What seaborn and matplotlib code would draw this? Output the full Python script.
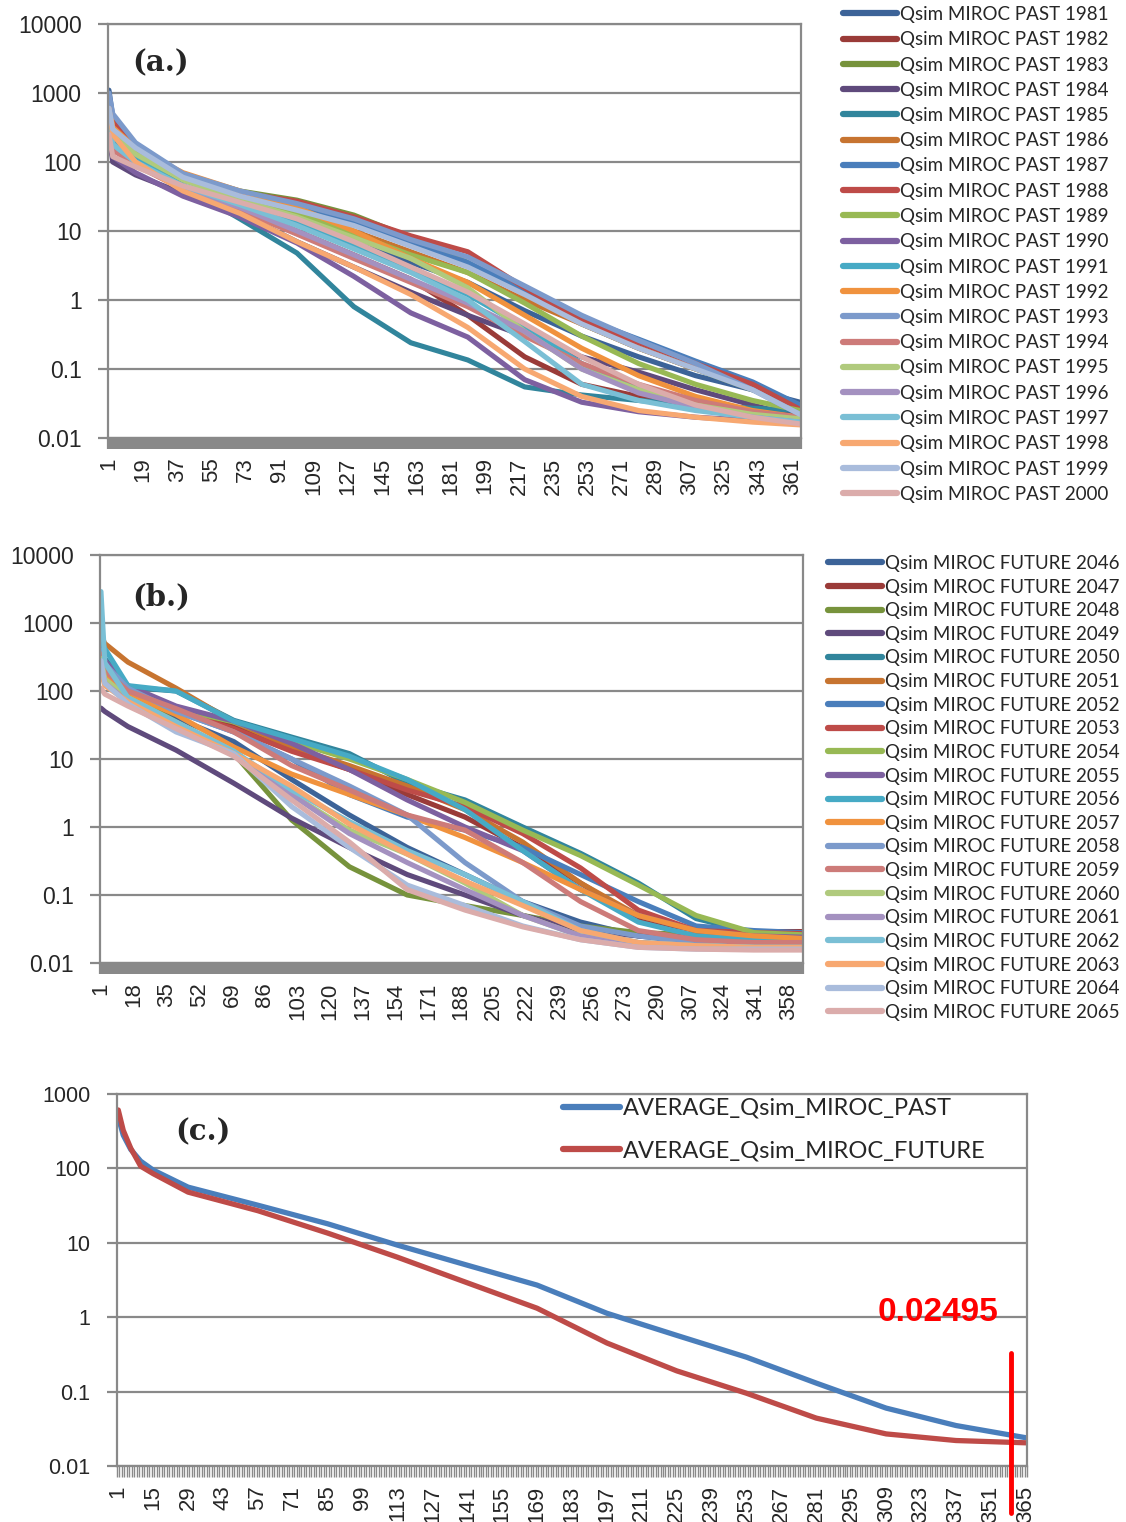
import numpy as np
import pandas as pd
import matplotlib
matplotlib.use("Agg")
import matplotlib.pyplot as plt
import seaborn as sns
from matplotlib.lines import Line2D
from matplotlib.ticker import FixedLocator, NullLocator
from matplotlib.transforms import blended_transform_factory

# ---- panel (a): past years, flow values read at these ranks ----
ranks_a = [1, 3, 15, 40, 70, 100, 130, 160, 190, 220, 250, 280, 310, 340, 365]
p1981 = [1100, 450, 150, 55, 30, 15, 7, 3.5, 1.8, 0.7, 0.3, 0.15, 0.08, 0.05, 0.033]
p1982 = [900, 350, 120, 45, 22, 10, 4.5, 2, 0.6, 0.15, 0.06, 0.04, 0.03, 0.025, 0.022]
p1983 = [700, 350, 160, 65, 38, 28, 17, 8, 3.5, 1.2, 0.45, 0.2, 0.1, 0.05, 0.027]
p1984 = [250, 100, 65, 35, 18, 7, 3, 1.3, 0.6, 0.3, 0.15, 0.09, 0.05, 0.03, 0.02]
p1985 = [500, 200, 110, 45, 15, 4.8, 0.8, 0.24, 0.135, 0.055, 0.042, 0.035, 0.03, 0.027, 0.025]
p1986 = [600, 300, 150, 60, 33, 20, 10, 5, 2.5, 1.0, 0.45, 0.2, 0.1, 0.055, 0.03]
p1987 = [900, 400, 170, 62, 35, 22, 13, 6.5, 3.5, 1.4, 0.55, 0.27, 0.13, 0.065, 0.03]
p1988 = [800, 380, 150, 62, 36, 27, 16, 8.5, 5, 1.5, 0.5, 0.24, 0.12, 0.06, 0.026]
p1989 = [600, 300, 140, 55, 30, 18, 9, 4.5, 2.5, 0.9, 0.3, 0.12, 0.06, 0.035, 0.025]
p1990 = [300, 120, 70, 32, 16, 6.7, 2.2, 0.65, 0.29, 0.07, 0.033, 0.024, 0.02, 0.018, 0.017]
p1991 = [400, 200, 110, 45, 25, 13, 6, 2.8, 1.2, 0.4, 0.12, 0.05, 0.03, 0.022, 0.02]
p1992 = [700, 320, 160, 70, 38, 22, 10, 4, 1.8, 0.6, 0.2, 0.08, 0.04, 0.025, 0.02]
p1993 = [1000, 500, 190, 68, 38, 25, 15, 7.5, 4.2, 1.6, 0.6, 0.26, 0.12, 0.05, 0.022]
p1994 = [350, 150, 90, 40, 20, 9, 4, 1.8, 0.8, 0.3, 0.12, 0.06, 0.035, 0.024, 0.02]
p1995 = [500, 250, 130, 55, 28, 16, 8, 4, 1.5, 0.35, 0.1, 0.05, 0.03, 0.022, 0.019]
p1996 = [400, 180, 100, 42, 22, 10, 4.5, 2, 0.9, 0.35, 0.1, 0.045, 0.028, 0.02, 0.017]
p1997 = [350, 180, 100, 45, 24, 12, 5.5, 2.5, 1, 0.25, 0.06, 0.035, 0.025, 0.02, 0.017]
p1998 = [600, 250, 100, 38, 18, 7, 3, 1.2, 0.4, 0.1, 0.04, 0.025, 0.02, 0.017, 0.0155]
p1999 = [600, 300, 160, 60, 32, 20, 12, 6, 3, 1.2, 0.45, 0.2, 0.1, 0.05, 0.022]
p2000 = [250, 120, 85, 45, 26, 15, 7, 3, 1.3, 0.45, 0.15, 0.06, 0.03, 0.02, 0.016]
past_years = list(range(1981, 2001))
past_series = [p1981, p1982, p1983, p1984, p1985, p1986, p1987, p1988, p1989, p1990,
               p1991, p1992, p1993, p1994, p1995, p1996, p1997, p1998, p1999, p2000]

# ---- panel (b): future years ----
ranks_b = [1, 3, 15, 40, 70, 100, 130, 160, 190, 220, 250, 280, 310, 340, 365]
f2046 = [300, 180, 80, 40, 18, 5, 1.5, 0.5, 0.2, 0.08, 0.04, 0.025, 0.02, 0.018, 0.018]
f2047 = [400, 200, 100, 55, 30, 14, 7, 3, 1.4, 0.5, 0.15, 0.045, 0.03, 0.029, 0.029]
f2048 = [350, 180, 90, 35, 12, 1.27, 0.26, 0.1, 0.07, 0.05, 0.035, 0.028, 0.026, 0.025, 0.025]
f2049 = [56, 50, 30, 13.5, 4.4, 1.35, 0.5, 0.2, 0.1, 0.05, 0.03, 0.025, 0.024, 0.024, 0.024]
f2050 = [500, 300, 114, 100, 37, 21, 12, 4.4, 2.5, 1.0, 0.41, 0.15, 0.045, 0.028, 0.027]
f2051 = [660, 500, 266, 110, 35, 15, 8, 4, 1.8, 0.6, 0.15, 0.05, 0.03, 0.025, 0.022]
f2052 = [400, 200, 100, 50, 25, 10, 3, 1.4, 0.9, 0.5, 0.2, 0.08, 0.035, 0.03, 0.028]
f2053 = [350, 200, 100, 50, 28, 13, 7, 3.5, 2, 0.8, 0.25, 0.06, 0.03, 0.028, 0.027]
f2054 = [400, 250, 110, 55, 35, 18, 10, 5, 2.3, 0.9, 0.38, 0.14, 0.05, 0.028, 0.026]
f2055 = [500, 280, 120, 60, 36, 17, 7, 2.5, 1.0, 0.45, 0.12, 0.05, 0.03, 0.025, 0.024]
f2056 = [550, 420, 120, 100, 36, 20, 11, 5, 1.8, 0.45, 0.12, 0.04, 0.025, 0.022, 0.021]
f2057 = [300, 180, 90, 45, 15, 6, 3, 1.5, 0.7, 0.3, 0.12, 0.05, 0.03, 0.025, 0.023]
f2058 = [400, 250, 110, 50, 25, 10, 4, 1.5, 0.3, 0.08, 0.035, 0.025, 0.02, 0.019, 0.019]
f2059 = [350, 200, 100, 55, 25, 8, 3.5, 1.5, 0.9, 0.3, 0.08, 0.03, 0.022, 0.02, 0.02]
f2060 = [300, 150, 80, 35, 13, 3, 0.9, 0.4, 0.15, 0.05, 0.025, 0.02, 0.018, 0.017, 0.017]
f2061 = [250, 130, 70, 30, 12, 3, 0.8, 0.3, 0.12, 0.05, 0.025, 0.02, 0.018, 0.017, 0.017]
f2062 = [2900, 260, 80, 35, 13, 3.5, 1.2, 0.45, 0.2, 0.08, 0.03, 0.02, 0.018, 0.017, 0.017]
f2063 = [200, 120, 70, 30, 12, 4, 1.1, 0.4, 0.16, 0.07, 0.03, 0.02, 0.018, 0.017, 0.017]
f2064 = [280, 130, 65, 25, 12, 2, 0.5, 0.14, 0.07, 0.035, 0.022, 0.017, 0.016, 0.016, 0.016]
f2065 = [110, 90, 60, 28, 11, 2.5, 0.6, 0.12, 0.06, 0.034, 0.022, 0.017, 0.016, 0.0155, 0.0155]
future_years = list(range(2046, 2066))
future_series = [f2046, f2047, f2048, f2049, f2050, f2051, f2052, f2053, f2054, f2055,
                 f2056, f2057, f2058, f2059, f2060, f2061, f2062, f2063, f2064, f2065]

# ---- panel (c): averages ----
ranks_c = [1, 3, 6, 10, 15, 29, 57, 85, 113, 141, 169, 197, 225, 253, 281, 309, 337, 365]
avg_past = [490, 280, 180, 125, 95, 56, 32, 18, 9.3, 5, 2.7, 1.13, 0.57, 0.29, 0.13, 0.06, 0.035, 0.024]
avg_future = [610, 325, 187, 107, 85, 48, 27, 13.5, 6.4, 2.9, 1.32, 0.45, 0.19, 0.095, 0.044, 0.027, 0.022, 0.0205]
marker_rank = 359
marker_label = "0.02495"

excel_colors = ["#3C6398", "#9A3B38", "#77933C", "#5F4A7C", "#31859C", "#C77430",
                "#4A7EBB", "#BE4B48", "#98B954", "#7D60A0", "#46AAC5", "#F0923E",
                "#7C9ACB", "#CD7B79", "#B0CA7D", "#A491C0", "#7ABFD5", "#F7A871",
                "#A9BCDC", "#DBACAB"]

GRID = "#898989"
W, H = 1126, 1522

sns.set_style("white")
plt.rcParams["font.family"] = ["Liberation Sans", "DejaVu Sans"]

fig = plt.figure(figsize=(W / 100, H / 100), dpi=100)


def px_axes(left, top, right, bottom):
    return fig.add_axes([left / W, 1 - bottom / H, (right - left) / W, (bottom - top) / H])


def long_frame(ranks, series, labels):
    rows = []
    for lab, vals in zip(labels, series):
        for r, v in zip(ranks, vals):
            rows.append({"rank": r, "q": v, "series": lab})
    return pd.DataFrame(rows)


def style_axis(ax, lo, hi, xticks, yfs, xfs, minor_w):
    ax.set_yscale("log")
    ax.set_ylim(10.0 ** lo, 10.0 ** hi)
    yt = 10.0 ** np.arange(lo, hi + 1)
    ax.set_yticks(yt)
    ax.set_yticklabels([f"{v:g}" for v in yt])
    ax.yaxis.set_minor_locator(NullLocator())
    ax.grid(axis="y", color=GRID, lw=1.6)
    ax.grid(axis="x", visible=False)
    ax.set_xlim(0.5, 365.5)
    ax.set_xticks(xticks)
    ax.set_xticklabels([str(t) for t in xticks], rotation=90, fontsize=xfs)
    ax.xaxis.set_minor_locator(FixedLocator(np.arange(0.5, 366, 1)))
    ax.tick_params(axis="y", which="major", left=True, length=7, width=1.6,
                   color=GRID, pad=12, labelsize=yfs)
    ax.tick_params(axis="x", which="major", bottom=True, length=0, pad=14)
    ax.tick_params(axis="x", which="minor", bottom=True, length=8, width=minor_w, color=GRID)
    for s in ax.spines.values():
        s.set_color(GRID)
        s.set_linewidth(1.6)
    ax.set_xlabel("")
    ax.set_ylabel("")


legend_font = {"family": "Lato", "size": 13.5}

# panel (a)
labels_a = [f"Qsim MIROC PAST {y}" for y in past_years]
ax_a = px_axes(108, 24, 801, 438)
sns.lineplot(data=long_frame(ranks_a, past_series, labels_a), x="rank", y="q",
             hue="series", hue_order=labels_a, palette=excel_colors,
             linewidth=3.7, legend=False, ax=ax_a)
style_axis(ax_a, -2, 4, list(range(1, 366, 18)), 16.5, 16, 1.6)
fig.text(161 / W, 1 - 63 / H, "(a.)", ha="center", va="center",
         family="DejaVu Serif", weight="bold", fontsize=21)
fig.legend([Line2D([0], [0], color=c, lw=4.5) for c in excel_colors], labels_a,
           loc="upper left", bbox_to_anchor=(843 / W, 1 - 6 / H), frameon=False,
           prop=legend_font, handlelength=2.9, handletextpad=0.15,
           labelspacing=0.44, borderpad=0, borderaxespad=0)

# panel (b)
labels_b = [f"Qsim MIROC FUTURE {y}" for y in future_years]
ax_b = px_axes(100, 555, 803, 963)
sns.lineplot(data=long_frame(ranks_b, future_series, labels_b), x="rank", y="q",
             hue="series", hue_order=labels_b, palette=excel_colors,
             linewidth=3.7, legend=False, ax=ax_b)
style_axis(ax_b, -2, 4, list(range(1, 366, 17)), 16.5, 16, 1.6)
fig.text(161 / W, 1 - 597 / H, "(b.)", ha="center", va="center",
         family="DejaVu Serif", weight="bold", fontsize=21)
fig.legend([Line2D([0], [0], color=c, lw=4.5) for c in excel_colors], labels_b,
           loc="upper left", bbox_to_anchor=(828 / W, 1 - 555 / H), frameon=False,
           prop=legend_font, handlelength=2.9, handletextpad=0.15,
           labelspacing=0.353, borderpad=0, borderaxespad=0)

# panel (c)
ax_c = px_axes(117, 1094, 1027, 1466)
avg = pd.DataFrame({
    "rank": ranks_c + ranks_c,
    "q": avg_past + avg_future,
    "series": ["AVERAGE_Qsim_MIROC_PAST"] * len(ranks_c) + ["AVERAGE_Qsim_MIROC_FUTURE"] * len(ranks_c),
})
sns.lineplot(data=avg, x="rank", y="q", hue="series",
             hue_order=["AVERAGE_Qsim_MIROC_PAST", "AVERAGE_Qsim_MIROC_FUTURE"],
             palette=["#4A7EBB", "#BE4B48"], linewidth=3.8, ax=ax_c)
style_axis(ax_c, -2, 3, list(range(1, 366, 14)), 15.5, 16, 1.0)
ax_c.legend(loc="upper left", bbox_to_anchor=(563 / W, 1 - 1098 / H),
            bbox_transform=fig.transFigure, frameon=False,
            prop={"family": "Lato", "size": 17}, handlelength=2.4, handletextpad=0.15,
            labelspacing=0.92, borderpad=0, borderaxespad=0)
for h in ax_c.get_legend().legend_handles:
    h.set_linewidth(4.5)
fig.text(203 / W, 1 - 1132 / H, "(c.)", ha="center", va="center",
         family="DejaVu Serif", weight="bold", fontsize=21)

trans = blended_transform_factory(ax_c.transData, ax_c.transAxes)
ax_c.plot([marker_rank, marker_rank], [0.304, -0.126], transform=trans,
          color="red", lw=3.5, clip_on=False, zorder=5)
ax_c.text(330, 1.15, marker_label, color="red", fontsize=24, weight="bold",
          ha="center", va="center", family="Liberation Sans")

fig.savefig("out.png", dpi=100)
